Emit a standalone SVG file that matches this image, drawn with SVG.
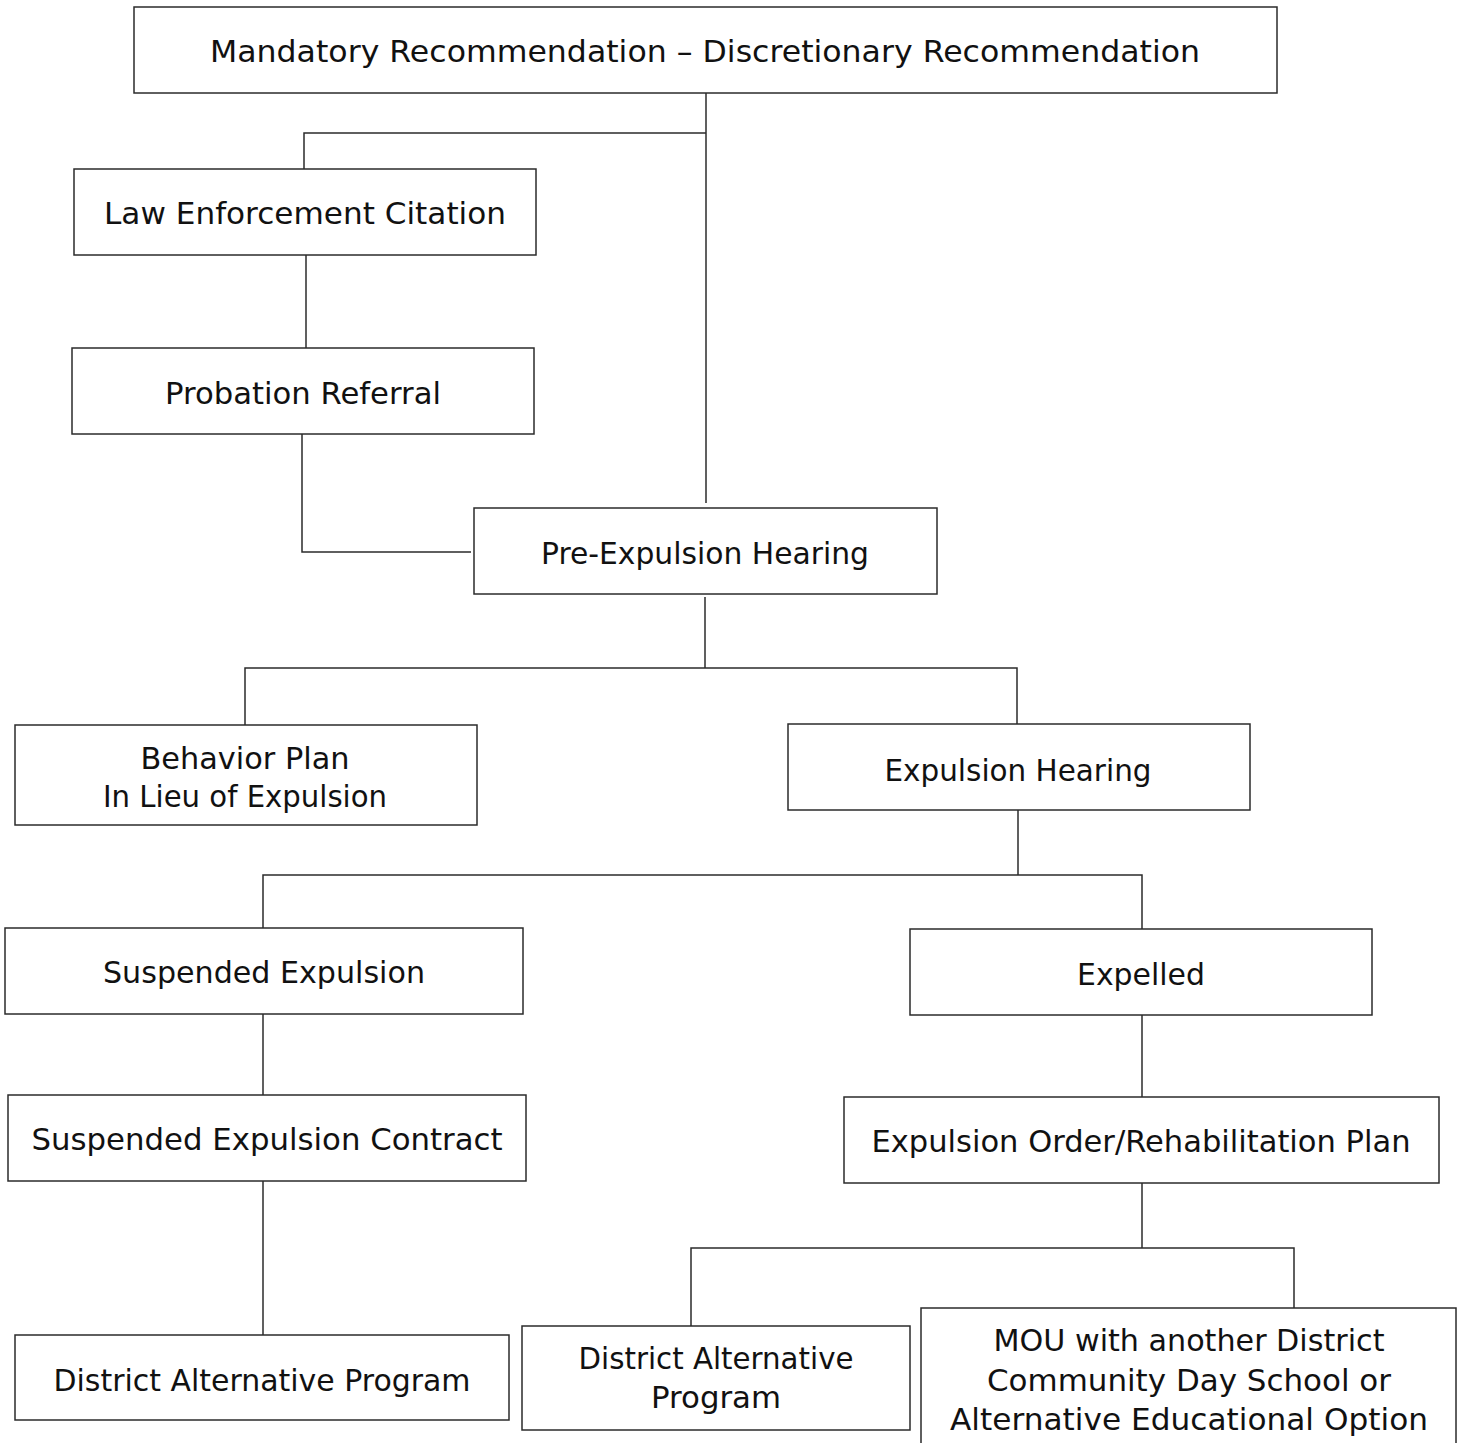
<svg xmlns="http://www.w3.org/2000/svg" width="1458" height="1443" viewBox="0 0 1458 1443">
<style>
.box{fill:#fff;stroke:#2b2b2b;stroke-width:1.5}
.t{font-family:"DejaVu Sans","Liberation Sans",sans-serif;font-size:30px;fill:#111;text-anchor:middle}
.c{fill:none;stroke:#2b2b2b;stroke-width:1.5}
</style>
<rect width="1458" height="1443" fill="#fff"/>
<g id="connectors">
<path class="c" d="M706 93V503"/>
<path class="c" d="M706 133H304V169"/>
<path class="c" d="M306 255V348"/>
<path class="c" d="M302 434V552H471"/>
<path class="c" d="M705 597V668"/>
<path class="c" d="M245 725V668H1017V724"/>
<path class="c" d="M1018 810V875"/>
<path class="c" d="M263 928V875H1142V929"/>
<path class="c" d="M263 1014V1095"/>
<path class="c" d="M1142 1015V1097"/>
<path class="c" d="M263 1181V1335"/>
<path class="c" d="M1142 1183V1248"/>
<path class="c" d="M691 1326V1248H1294V1308"/>
</g>
<g id="n-top"><rect class="box" x="134" y="7" width="1143" height="86"/><text class="t" x="705" y="62" textLength="990" lengthAdjust="spacingAndGlyphs">Mandatory Recommendation – Discretionary Recommendation</text></g>
<g id="n-law"><rect class="box" x="74" y="169" width="462" height="86"/><text class="t" x="305" y="224" textLength="402" lengthAdjust="spacingAndGlyphs">Law Enforcement Citation</text></g>
<g id="n-prob"><rect class="box" x="72" y="348" width="462" height="86"/><text class="t" x="303" y="404" textLength="276" lengthAdjust="spacingAndGlyphs">Probation Referral</text></g>
<g id="n-pre"><rect class="box" x="474" y="508" width="463" height="86"/><text class="t" x="705" y="564" textLength="328" lengthAdjust="spacingAndGlyphs">Pre-Expulsion Hearing</text></g>
<g id="n-behavior"><rect class="box" x="15" y="725" width="462" height="100"/><text class="t" x="245" y="769" textLength="209" lengthAdjust="spacingAndGlyphs">Behavior Plan</text><text class="t" x="245" y="807" textLength="284" lengthAdjust="spacingAndGlyphs">In Lieu of Expulsion</text></g>
<g id="n-exphear"><rect class="box" x="788" y="724" width="462" height="86"/><text class="t" x="1018" y="781" textLength="267" lengthAdjust="spacingAndGlyphs">Expulsion Hearing</text></g>
<g id="n-susp"><rect class="box" x="5" y="928" width="518" height="86"/><text class="t" x="264" y="983" textLength="322" lengthAdjust="spacingAndGlyphs">Suspended Expulsion</text></g>
<g id="n-expelled"><rect class="box" x="910" y="929" width="462" height="86"/><text class="t" x="1141" y="985" textLength="128" lengthAdjust="spacingAndGlyphs">Expelled</text></g>
<g id="n-contract"><rect class="box" x="8" y="1095" width="518" height="86"/><text class="t" x="267" y="1150" textLength="471" lengthAdjust="spacingAndGlyphs">Suspended Expulsion Contract</text></g>
<g id="n-order"><rect class="box" x="844" y="1097" width="595" height="86"/><text class="t" x="1141" y="1152" textLength="539" lengthAdjust="spacingAndGlyphs">Expulsion Order/Rehabilitation Plan</text></g>
<g id="n-dap1"><rect class="box" x="15" y="1335" width="494" height="85"/><text class="t" x="262" y="1391" textLength="417" lengthAdjust="spacingAndGlyphs">District Alternative Program</text></g>
<g id="n-dap2"><rect class="box" x="522" y="1326" width="388" height="104"/><text class="t" x="716" y="1369" textLength="275" lengthAdjust="spacingAndGlyphs">District Alternative</text><text class="t" x="716" y="1408" textLength="130" lengthAdjust="spacingAndGlyphs">Program</text></g>
<g id="n-mou"><rect class="box" x="921" y="1308" width="535" height="140"/><text class="t" x="1189" y="1351" textLength="391" lengthAdjust="spacingAndGlyphs">MOU with another District</text><text class="t" x="1189" y="1391" textLength="404" lengthAdjust="spacingAndGlyphs">Community Day School or</text><text class="t" x="1189" y="1430" textLength="478" lengthAdjust="spacingAndGlyphs">Alternative Educational Option</text></g>
</svg>
